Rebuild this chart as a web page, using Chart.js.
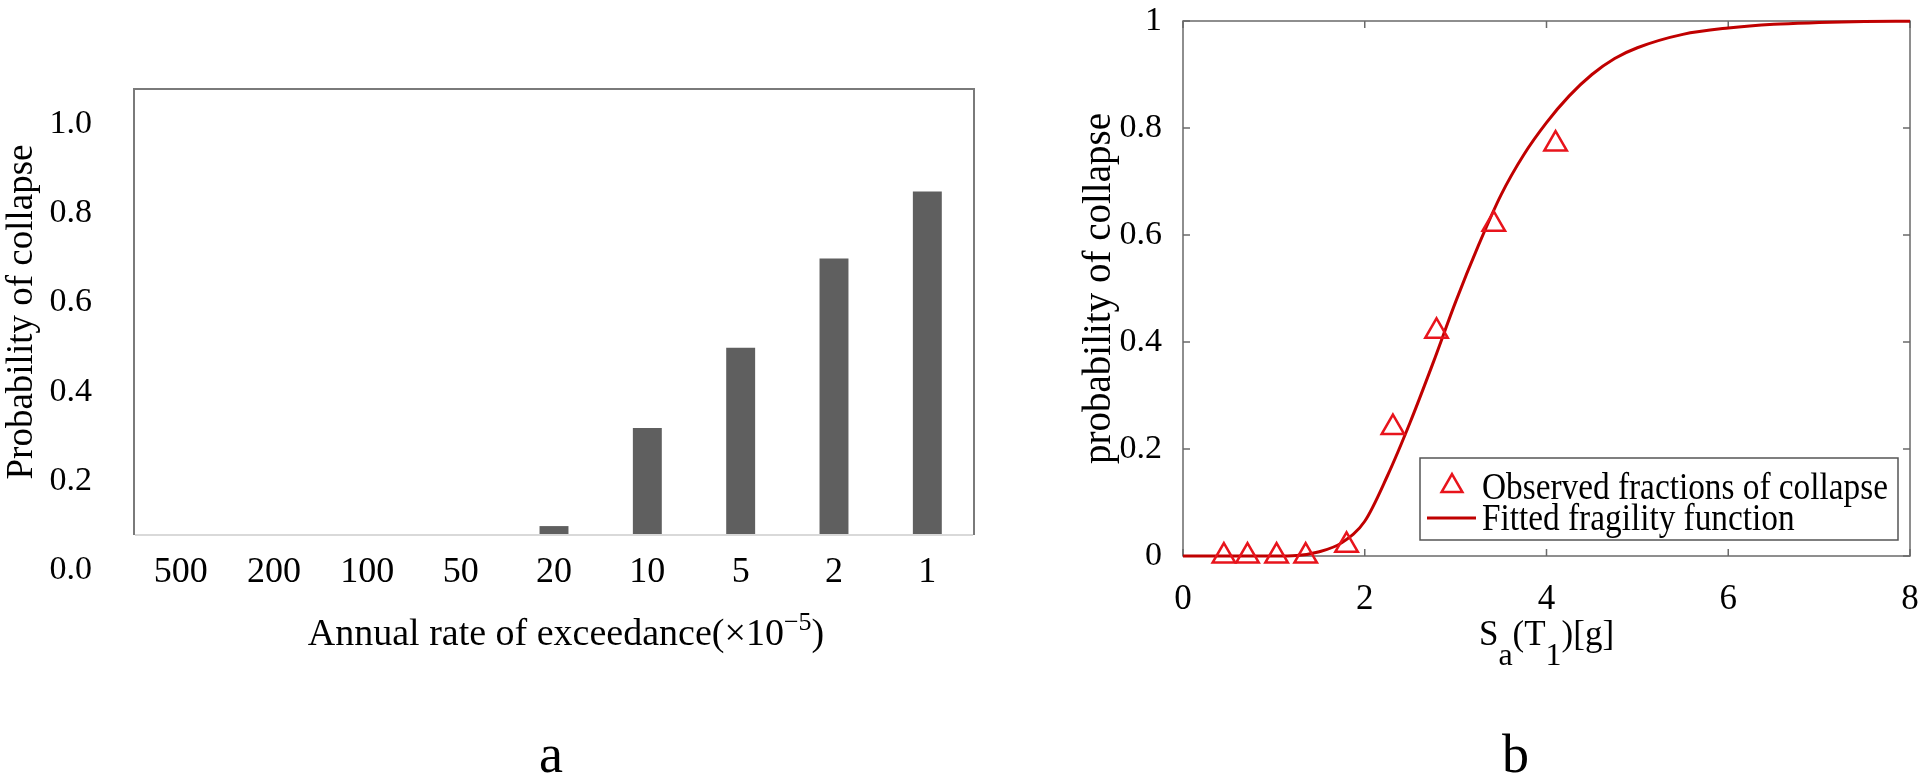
<!DOCTYPE html>
<html><head><meta charset="utf-8">
<script src="https://cdn.jsdelivr.net/npm/chart.js"></script>
<style>
html,body{margin:0;padding:0;background:#fff;}
body{width:1932px;height:784px;position:relative;overflow:hidden;font-family:'Liberation Serif',serif;}
canvas{position:absolute;top:0;}
#ca{left:0;} #cb{left:1000px;}
.cap{position:absolute;font-family:'Liberation Serif',serif;font-size:54px;line-height:54px;color:#000;}
#capA{left:539px;top:727px;} #capB{left:1502px;top:727px;}
</style></head><body>
<canvas id="ca" width="1000" height="784"></canvas>
<canvas id="cb" width="932" height="784"></canvas>
<div class="cap" id="capA">a</div><div class="cap" id="capB">b</div>
<script>
const FONT = 'Liberation Serif';
// ---- panel a ----
const rateLabels = ['500','200','100','50','20','10','5','2','1'];
const collapseProb = [0,0,0,0,0.02,0.24,0.42,0.62,0.77];
// ---- panel b ----
const saObserved = [0.45,0.71,1.03,1.35,1.80,2.31,2.79,3.42,4.10];
const fracObserved = [0,0,0,0,0.02,0.24,0.42,0.62,0.77];
const saFit = [0,0.5,1.0,1.25,1.5,1.75,2.0,2.25,2.5,2.75,3.0,3.25,3.5,3.75,4.0,4.25,4.5,4.75,5.0,5.5,6.0,6.5,7.0,7.5,8.0];
const probFit = [0,0,0,0.001,0.008,0.025,0.065,0.15,0.25,0.36,0.475,0.58,0.675,0.75,0.81,0.86,0.90,0.93,0.95,0.975,0.987,0.994,0.997,0.999,0.9995];

const RED = '#e8141c', DRED = '#c00000';

function drawRich(ctx, parts, cx, by){
  let total = 0;
  parts.forEach(p => { ctx.font = p.s + 'px "' + FONT + '"'; p.w = ctx.measureText(p.t).width; total += p.w; });
  let x = cx - total / 2;
  ctx.textBaseline = 'alphabetic'; ctx.textAlign = 'left'; ctx.fillStyle = '#000';
  parts.forEach(p => { ctx.font = p.s + 'px "' + FONT + '"'; ctx.fillText(p.t, x, by + p.dy); x += p.w; });
}
function noPad(s){ s.paddingTop = 0; s.paddingBottom = 0; s.paddingLeft = 0; s.paddingRight = 0; }

const frameA = {
  id: 'frameA',
  afterDatasetsDraw(chart){
    const {ctx, chartArea: a} = chart;
    ctx.save();
    ctx.lineWidth = 2; ctx.strokeStyle = '#7a7a7a';
    ctx.beginPath(); ctx.moveTo(a.left, a.bottom); ctx.lineTo(a.left, a.top); ctx.lineTo(a.right, a.top); ctx.lineTo(a.right, a.bottom); ctx.stroke();
    ctx.strokeStyle = '#d9d9d9';
    ctx.beginPath(); ctx.moveTo(a.left + 1, a.bottom); ctx.lineTo(a.right - 1, a.bottom); ctx.stroke();
    ctx.restore();
  }
};
const titleA = {
  id: 'titleA',
  afterDraw(chart){
    const {ctx, chartArea: a} = chart;
    ctx.save();
    drawRich(ctx, [
      {t: 'Annual rate of exceedance(\u00d710', s: 38, dy: 0},
      {t: '\u22125', s: 26, dy: -15},
      {t: ')', s: 38, dy: 0}
    ], (a.left + a.right) / 2 + 12, a.bottom + 110);
    ctx.restore();
  }
};

new Chart(document.getElementById('ca'), {
  type: 'bar',
  data: {
    labels: rateLabels,
    datasets: [{label: 'Probability of collapse', data: collapseProb, backgroundColor: '#5f5f5f', borderWidth: 0, categoryPercentage: 1, barPercentage: 0.31}]
  },
  options: {
    responsive: false, animation: false, devicePixelRatio: 1,
    layout: {padding: {top: 89, right: 26, bottom: 149, left: 0}},
    plugins: {legend: {display: false}, tooltip: {enabled: false}},
    scales: {
      x: {
        grid: {display: false}, border: {display: false},
        ticks: {font: {family: FONT, size: 36}, color: '#000', padding: 8, maxRotation: 0, autoSkip: false},
        afterFit(s){ s.height = 100; noPad(s); }
      },
      y: {
        min: 0, max: 1,
        grid: {display: false}, border: {display: false},
        ticks: {stepSize: 0.2, font: {family: FONT, size: 34}, color: '#000', padding: 34, labelOffset: 35, callback: v => Number(v).toFixed(1)},
        title: {display: true, text: 'Probability of collapse', font: {family: FONT, size: 37}, color: '#000', padding: {top: 0, bottom: 0}},
        afterFit(s){ s.width = 134; noPad(s); }
      }
    }
  },
  plugins: [frameA, titleA]
});

const frameB = {
  id: 'frameB',
  beforeDatasetsDraw(chart){
    const {ctx, chartArea: a} = chart;
    const xs = chart.scales.x, ys = chart.scales.y;
    ctx.save();
    ctx.strokeStyle = '#6a6a6a'; ctx.lineWidth = 1.5;
    ctx.strokeRect(a.left, a.top, a.right - a.left, a.bottom - a.top);
    ctx.beginPath();
    xs.ticks.forEach(t => { const p = xs.getPixelForValue(t.value);
      ctx.moveTo(p, a.bottom); ctx.lineTo(p, a.bottom - 7); ctx.moveTo(p, a.top); ctx.lineTo(p, a.top + 7); });
    ys.ticks.forEach(t => { const p = ys.getPixelForValue(t.value);
      ctx.moveTo(a.left, p); ctx.lineTo(a.left + 7, p); ctx.moveTo(a.right, p); ctx.lineTo(a.right - 7, p); });
    ctx.stroke();
    ctx.restore();
  }
};
const titleB = {
  id: 'titleB',
  afterDraw(chart){
    const {ctx, chartArea: a} = chart;
    ctx.save();
    drawRich(ctx, [
      {t: 'S', s: 35, dy: 0}, {t: 'a', s: 32, dy: 20},
      {t: '(T', s: 35, dy: 0}, {t: '1', s: 32, dy: 20},
      {t: ')[g]', s: 35, dy: 0}
    ], (a.left + a.right) / 2, a.bottom + 89);
    ctx.restore();
  }
};
const legendB = {
  id: 'legendB',
  afterDraw(chart){
    const {ctx, chartArea: a} = chart;
    const d0 = chart.data.datasets[0], d1 = chart.data.datasets[1];
    const w = 478, h = 82;
    const x0 = a.right - 12 - w, y0 = a.bottom - 16 - h;
    ctx.save();
    ctx.fillStyle = '#fff'; ctx.fillRect(x0, y0, w, h);
    ctx.strokeStyle = '#555'; ctx.lineWidth = 1.5; ctx.strokeRect(x0, y0, w, h);
    const tx = x0 + 32, ty = y0 + 28, r = 12;
    ctx.beginPath(); ctx.moveTo(tx, ty - r); ctx.lineTo(tx + r * 0.866, ty + r / 2); ctx.lineTo(tx - r * 0.866, ty + r / 2); ctx.closePath();
    ctx.strokeStyle = d0.pointBorderColor; ctx.lineWidth = 2.5; ctx.stroke();
    ctx.beginPath(); ctx.moveTo(x0 + 7, y0 + 60); ctx.lineTo(x0 + 56, y0 + 60);
    ctx.strokeStyle = d1.borderColor; ctx.lineWidth = 3; ctx.stroke();
    ctx.fillStyle = '#000'; ctx.font = '37px "' + FONT + '"'; ctx.textBaseline = 'alphabetic'; ctx.textAlign = 'left';
    [[d0.label, y0 + 41], [d1.label, y0 + 72]].forEach(([txt, by]) => {
      ctx.save(); ctx.translate(x0 + 62, by); ctx.scale(0.9, 1); ctx.fillText(txt, 0, 0); ctx.restore();
    });
    ctx.restore();
  }
};

new Chart(document.getElementById('cb'), {
  type: 'scatter',
  data: {
    datasets: [
      {label: 'Observed fractions of collapse', data: saObserved.map((x, i) => ({x: x, y: fracObserved[i]})),
       pointStyle: 'triangle', pointRadius: 13, pointHoverRadius: 13, pointBorderWidth: 2.5,
       borderColor: RED, pointBorderColor: RED, pointBackgroundColor: 'rgba(255,255,255,0)', backgroundColor: 'rgba(255,255,255,0)',
       showLine: false, clip: false, order: 0},
      {label: 'Fitted fragility function', data: saFit.map((x, i) => ({x: x, y: probFit[i]})),
       showLine: true, borderColor: DRED, borderWidth: 3, pointRadius: 0, pointHoverRadius: 0,
       cubicInterpolationMode: 'monotone', clip: false, order: 1}
    ]
  },
  options: {
    responsive: false, animation: false, devicePixelRatio: 1,
    layout: {padding: {top: 21, right: 22, bottom: 128, left: 0}},
    plugins: {legend: {display: false}, tooltip: {enabled: false}},
    scales: {
      x: {
        type: 'linear', min: 0, max: 8,
        grid: {display: false}, border: {display: false},
        ticks: {stepSize: 2, font: {family: FONT, size: 35}, color: '#000', padding: 15},
        afterFit(s){ s.height = 100; noPad(s); }
      },
      y: {
        min: 0, max: 1,
        grid: {display: false}, border: {display: false},
        ticks: {stepSize: 0.2, font: {family: FONT, size: 34}, color: '#000', padding: 13, callback: v => String(Number(Number(v).toFixed(1)))},
        title: {display: true, text: 'probability of collapse', font: {family: FONT, size: 39}, color: '#000', padding: {top: 76, bottom: 0}},
        afterFit(s){ s.width = 183; noPad(s); }
      }
    }
  },
  plugins: [frameB, titleB, legendB]
});
</script>
</body></html>
